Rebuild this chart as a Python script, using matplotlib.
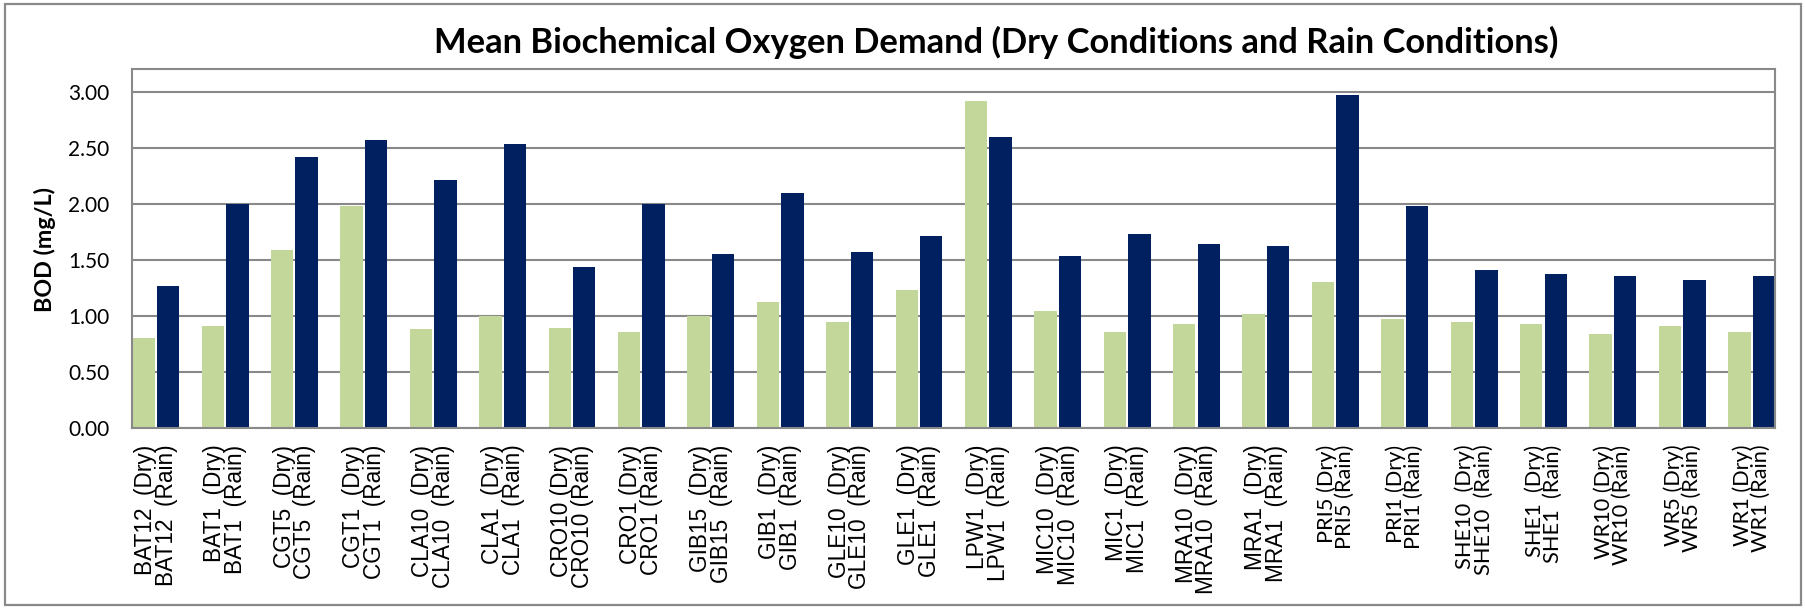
import numpy as np
import matplotlib
matplotlib.use("Agg")
import matplotlib.pyplot as plt
from matplotlib.patches import Rectangle

stations = ["BAT12", "BAT1", "CGT5", "CGT1", "CLA10", "CLA1", "CRO10", "CRO1",
            "GIB15", "GIB1", "GLE10", "GLE1", "LPW1", "MIC10", "MIC1", "MRA10",
            "MRA1", "PRI5", "PRI1", "SHE10", "SHE1", "WR10", "WR5", "WR1"]
label_gap = ["  ", "  ", "  ", "  ", "  ", "  ", " ", " ",
             "  ", "  ", "  ", "  ", "  ", "  ", "  ", "  ",
             "  ", " ", " ", "  ", "  ", " ", " ", " "]
dry = [0.80, 0.91, 1.59, 1.98, 0.88, 1.00, 0.89, 0.86,
       1.00, 1.12, 0.95, 1.23, 2.92, 1.04, 0.86, 0.93,
       1.02, 1.30, 0.97, 0.95, 0.93, 0.84, 0.91, 0.86]
rain = [1.27, 2.00, 2.42, 2.57, 2.21, 2.53, 1.44, 2.00,
        1.55, 2.10, 1.57, 1.71, 2.60, 1.53, 1.73, 1.64,
        1.62, 2.97, 1.98, 1.41, 1.37, 1.36, 1.32, 1.36]
yticks = [0.0, 0.5, 1.0, 1.5, 2.0, 2.5, 3.0]
title = "Mean Biochemical Oxygen Demand (Dry Conditions and Rain Conditions)"
ylabel = "BOD (mg/L)"

GREEN = "#C4D79B"
NAVY = "#002060"
GRAY = "#898989"

W, H = 1806, 609
fig = plt.figure(figsize=(W / 100, H / 100), dpi=100)
fig.patch.set_facecolor("white")

# outer chart border
fig.patches.append(Rectangle((5 / W, 4 / H), (1801 - 5) / W, (605 - 4) / H,
                             transform=fig.transFigure, fill=False,
                             edgecolor=GRAY, linewidth=1.6))

left, right, top, bottom = 132.3, 1775, 69.3, 428
ax = fig.add_axes([left / W, 1 - bottom / H, (right - left) / W, (bottom - top) / H])

x = np.arange(len(stations))
bw = 0.323
off = 0.1765
ax.bar(x - off, dry, bw, color=GREEN, zorder=2)
ax.bar(x + off, rain, bw, color=NAVY, zorder=2)

ax.set_xlim(-0.3367, len(stations) - 1 + 0.3367)
ax.set_ylim(0, 3.2)
ax.set_yticks(yticks)
ax.set_yticklabels([f"{v:.2f}" for v in yticks], fontfamily="Lato", fontsize=15)
ax.yaxis.grid(True, color=GRAY, linewidth=1.5, zorder=1)
ax.set_axisbelow(True)
for s in ax.spines.values():
    s.set_color(GRAY)
    s.set_linewidth(1.5)
ax.spines["bottom"].set_zorder(3)
ax.tick_params(axis="both", length=0)
ax.tick_params(axis="y", pad=16.5)

labels = [f"{s}{g}(Dry)\n{s}{g}(Rain)" for s, g in zip(stations, label_gap)]
ax.set_xticks(x)
ax.set_xticklabels(labels, rotation=90, va="top", ha="center",
                   multialignment="right", linespacing=0.88)
ax.tick_params(axis="x", pad=12)
for i, tl in enumerate(ax.get_xticklabels()):
    if i >= 17:
        tl.set_fontfamily("Lato")
        tl.set_fontsize(15.7)
    else:
        tl.set_fontfamily("Liberation Sans")
        tl.set_fontsize(16.3)

yl = fig.text(45 / W, 1 - 249 / H, ylabel, rotation=90, ha="center", va="center",
              fontfamily="Lato", fontweight="bold", fontsize=16)

t = fig.text(996 / W, 1 - 53.3 / H, title, ha="center", va="baseline",
             fontfamily="Lato", fontweight="bold", fontsize=21.7)
# fit text lengths to the reference
fig.canvas.draw()
r = fig.canvas.get_renderer()
w = t.get_window_extent(r).width
t.set_fontsize(21.7 * 1129 / w)
h = yl.get_window_extent(r).height
yl.set_fontsize(16 * 125 / h)

fig.savefig("out.png", dpi=100, facecolor="white")
